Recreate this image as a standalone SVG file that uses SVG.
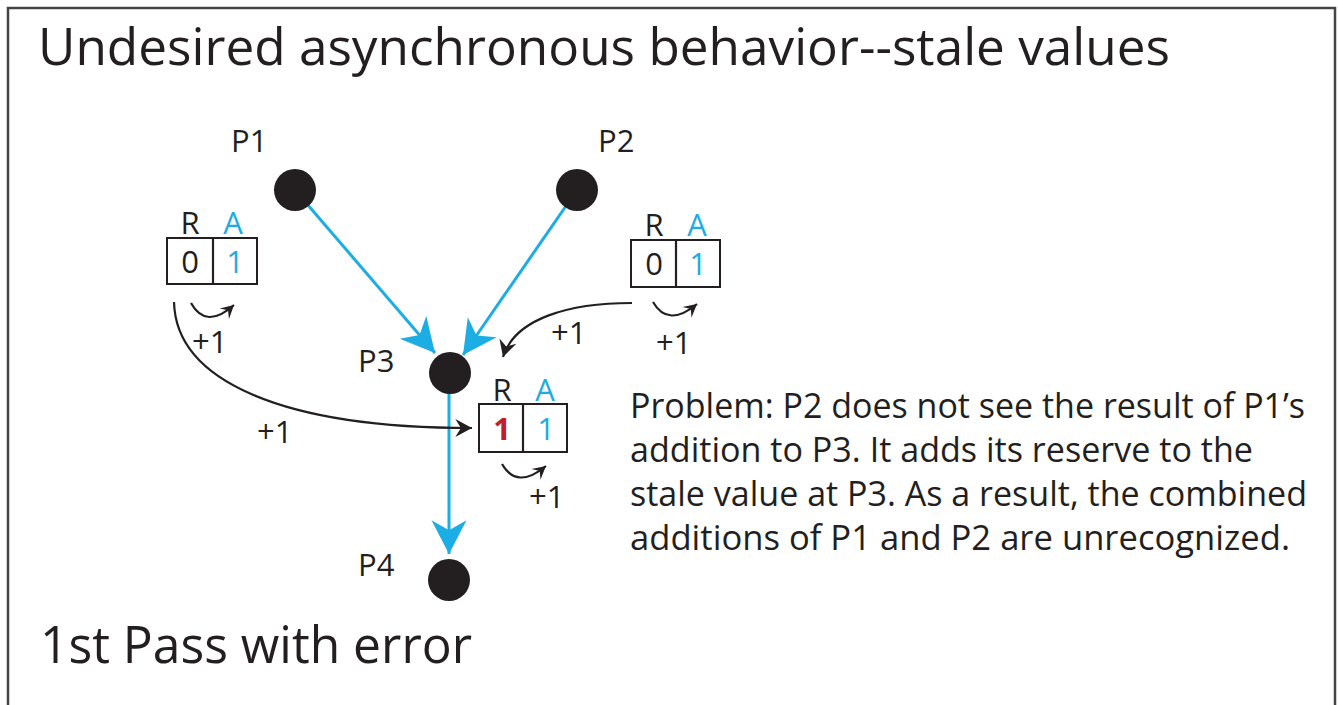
<svg xmlns="http://www.w3.org/2000/svg" width="1338" height="705" viewBox="0 0 1338 705">
<style>
text { font-family: "Open Sans", "Noto Sans", "Liberation Sans", sans-serif; fill: #231F20; }
.big { font-size: 52px; }
.lbl { font-size: 31px; }
.para { font-size: 34px; }
.mid { text-anchor: middle; }
.blue { fill: #1BADE4; }
.red { fill: #BE1E2D; font-weight: bold; }
.node { fill: #231F20; }
.box { fill: #FFFFFF; stroke: #231F20; stroke-width: 2; }
.bl { fill: none; stroke: #1BADE4; stroke-width: 3; }
.kl { fill: none; stroke: #231F20; stroke-width: 2.2; }
</style>
<defs>
<marker id="blueHead" markerUnits="userSpaceOnUse" markerWidth="40" markerHeight="40" viewBox="-30 -16 32 32" refX="0" refY="0" orient="auto" overflow="visible">
<path d="M0,0 L-27,-14 L-19,0 L-27,14 Z" fill="#1BADE4"/>
</marker>
<marker id="blackHead" markerUnits="userSpaceOnUse" markerWidth="20" markerHeight="20" viewBox="-16 -9 18 18" refX="0" refY="0" orient="auto" overflow="visible">
<path d="M0,0 L-15,-8 L-10,0 L-15,8 Z" fill="#231F20"/>
</marker>
<marker id="smallHead" markerUnits="userSpaceOnUse" markerWidth="16" markerHeight="16" viewBox="-14 -8 16 16" refX="0" refY="0" orient="auto" overflow="visible">
<path d="M0,0 L-13,-7 L-8,0 L-13,7 Z" fill="#231F20"/>
</marker>
</defs>
<rect x="0" y="0" width="1338" height="705" fill="#FFFFFF"/>
<rect x="8" y="8" width="1327" height="720" fill="none" stroke="#444444" stroke-width="2.5"/>

<text class="big" x="38" y="65" textLength="1132" lengthAdjust="spacingAndGlyphs">Undesired asynchronous behavior--stale values</text>
<text class="big" x="40" y="663" textLength="432" lengthAdjust="spacingAndGlyphs">1st Pass with error</text>

<g id="connectors">
<path class="bl" d="M295,190 L435,353" marker-end="url(#blueHead)"/>
<path class="bl" d="M577,190 L463,355" marker-end="url(#blueHead)"/>
<path class="bl" d="M449,393 L449,554" marker-end="url(#blueHead)"/>
<path class="kl" d="M174,302 C176,380 280,428 472,428" marker-end="url(#blackHead)"/>
<path class="kl" d="M632,303 C570,303 515,318 503,357" marker-end="url(#blackHead)"/>
<path class="kl" d="M191,303 Q206,330 234,305" marker-end="url(#smallHead)"/>
<path class="kl" d="M502,464 Q517,490 546,466" marker-end="url(#smallHead)"/>
<path class="kl" d="M653,302 Q668,328 697,304" marker-end="url(#smallHead)"/>
<text class="lbl" x="192" y="353">+1</text>
<text class="lbl" x="257" y="443">+1</text>
<text class="lbl" x="551" y="344">+1</text>
<text class="lbl" x="656" y="354">+1</text>
<text class="lbl" x="529" y="508">+1</text>
</g>

<g id="P1">
<circle class="node" cx="295" cy="190" r="21"/>
<text class="lbl" x="231" y="152">P1</text>
</g>
<g id="P2">
<circle class="node" cx="577" cy="190" r="21"/>
<text class="lbl" x="598" y="152">P2</text>
</g>
<g id="P3">
<circle class="node" cx="450" cy="373" r="21"/>
<text class="lbl" x="358" y="372">P3</text>
</g>
<g id="P4">
<circle class="node" cx="449" cy="580" r="21"/>
<text class="lbl" x="358" y="576">P4</text>
</g>

<g id="reg-left">
<rect class="box" x="167" y="238" width="90" height="46"/>
<line class="kl" x1="213" y1="238" x2="213" y2="284"/>
<text class="lbl mid" x="190" y="234">R</text>
<text class="lbl mid blue" x="233" y="234">A</text>
<text class="lbl mid" x="190" y="273">0</text>
<text class="lbl mid blue" x="235" y="273">1</text>
</g>
<g id="reg-right">
<rect class="box" x="631" y="240" width="89" height="47"/>
<line class="kl" x1="676" y1="240" x2="676" y2="287"/>
<text class="lbl mid" x="654" y="236">R</text>
<text class="lbl mid blue" x="697" y="236">A</text>
<text class="lbl mid" x="654" y="275">0</text>
<text class="lbl mid blue" x="698" y="275">1</text>
</g>
<g id="reg-p3">
<rect class="box" x="479" y="404" width="88" height="48"/>
<line class="kl" x1="523" y1="404" x2="523" y2="452"/>
<text class="lbl mid" x="502" y="401">R</text>
<text class="lbl mid blue" x="545" y="401">A</text>
<text class="lbl mid red" x="502" y="440">1</text>
<text class="lbl mid blue" x="546" y="440">1</text>
</g>

<g id="problem">
<text class="para" x="630" y="418" textLength="675" lengthAdjust="spacingAndGlyphs">Problem: P2 does not see the result of P1’s</text>
<text class="para" x="630" y="462" textLength="623" lengthAdjust="spacingAndGlyphs">addition to P3. It adds its reserve to the</text>
<text class="para" x="630" y="506" textLength="677" lengthAdjust="spacingAndGlyphs">stale value at P3. As a result, the combined</text>
<text class="para" x="630" y="550" textLength="660" lengthAdjust="spacingAndGlyphs">additions of P1 and P2 are unrecognized.</text>
</g>
</svg>
